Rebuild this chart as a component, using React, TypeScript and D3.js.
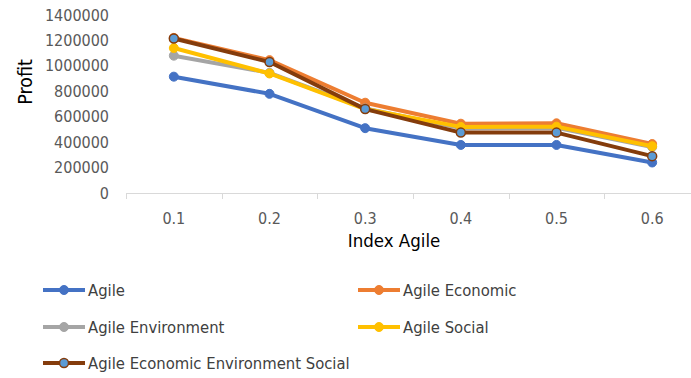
import React from "react";
import * as d3 from "d3";

const categories = ["0.1", "0.2", "0.3", "0.4", "0.5", "0.6"];
const agile = [915000, 780000, 510000, 378000, 378000, 240000];
const agileEconomic = [1220000, 1045000, 710000, 545000, 548000, 385000];
const agileEnvironment = [1080000, 945000, 665000, 510000, 512000, 362000];
const agileSocial = [1140000, 940000, 660000, 520000, 522000, 368000];
const agileAEES = [1215000, 1030000, 660000, 475000, 475000, 290000];
const yTicks = [0, 200000, 400000, 600000, 800000, 1000000, 1200000, 1400000];

const seriesNames = [
  "Agile",
  "Agile Economic",
  "Agile Environment",
  "Agile Social",
  "Agile Economic Environment Social",
];
const seriesValues = [agile, agileEconomic, agileEnvironment, agileSocial, agileAEES];
const lineColors = ["#4472C4", "#ED7D31", "#A5A5A5", "#FFC000", "#843C0C"];
const markerFill = ["#4472C4", "#ED7D31", "#A5A5A5", "#FFC000", "#5B9BD5"];

const W = 691;
const H = 378;
const FONT = "'DejaVu Sans Condensed', 'Liberation Sans', Arial, sans-serif";

export default function App() {
  const x = d3.scaleBand().domain(categories).range([126, 700]);
  const y = d3.scaleLinear().domain([0, 1400000]).range([193, 15]);
  const line = d3
    .line<number>()
    .x((_, i) => (x(categories[i]) as number) + x.bandwidth() / 2)
    .y((d) => y(d));

  const legendPos = [
    [43, 290],
    [358, 290],
    [43, 327],
    [358, 327],
    [43, 363],
  ];

  return (
    <svg
      width={W}
      height={H}
      style={{ position: "absolute", left: 0, top: 0, background: "#fff" }}
      fontFamily={FONT}
    >
      {yTicks.map((t) => (
        <text
          key={t}
          x={109}
          y={y(t)}
          dy="0.35em"
          textAnchor="end"
          fontSize={16}
          fill="#595959"
        >
          {t}
        </text>
      ))}
      <line x1={126} x2={700} y1={193.5} y2={193.5} stroke="#D9D9D9" strokeWidth={1} />
      {categories.map((c) => (
        <line
          key={"t" + c}
          x1={Math.round(x(c) as number) + 0.5}
          x2={Math.round(x(c) as number) + 0.5}
          y1={193}
          y2={199}
          stroke="#D9D9D9"
        />
      ))}
      {categories.map((c) => (
        <text
          key={"l" + c}
          x={(x(c) as number) + x.bandwidth() / 2}
          y={218}
          dy="0.35em"
          textAnchor="middle"
          fontSize={16}
          fill="#595959"
        >
          {c}
        </text>
      ))}
      <text x={394} y={241} dy="0.35em" textAnchor="middle" fontSize={18.5} fill="#000">
        Index Agile
      </text>
      <text
        transform={`translate(25,82) rotate(-90)`}
        dy="0.35em"
        textAnchor="middle"
        fontSize={19.5}
        fill="#000"
      >
        Profit
      </text>
      {seriesValues.map((vals, si) => (
        <g key={seriesNames[si]}>
          <path
            d={line(vals) as string}
            fill="none"
            stroke={lineColors[si]}
            strokeWidth={4}
            strokeLinejoin="round"
            strokeLinecap="round"
          />
          {vals.map((v, i) => (
            <circle
              key={i}
              cx={(x(categories[i]) as number) + x.bandwidth() / 2}
              cy={y(v)}
              r={4.5}
              fill={markerFill[si]}
              stroke={lineColors[si]}
              strokeWidth={si === 4 ? 1.5 : 1}
            />
          ))}
        </g>
      ))}
      {seriesNames.map((n, si) => {
        const [lx, ly] = legendPos[si];
        return (
          <g key={"lg" + n}>
            <line x1={lx} x2={lx + 42} y1={ly} y2={ly} stroke={lineColors[si]} strokeWidth={4} />
            <circle
              cx={lx + 21}
              cy={ly}
              r={4.5}
              fill={markerFill[si]}
              stroke={lineColors[si]}
              strokeWidth={si === 4 ? 1.5 : 1}
            />
            <text x={lx + 45} y={ly} dy="0.35em" fontSize={16.5} fill="#404040">
              {n}
            </text>
          </g>
        );
      })}
    </svg>
  );
}
